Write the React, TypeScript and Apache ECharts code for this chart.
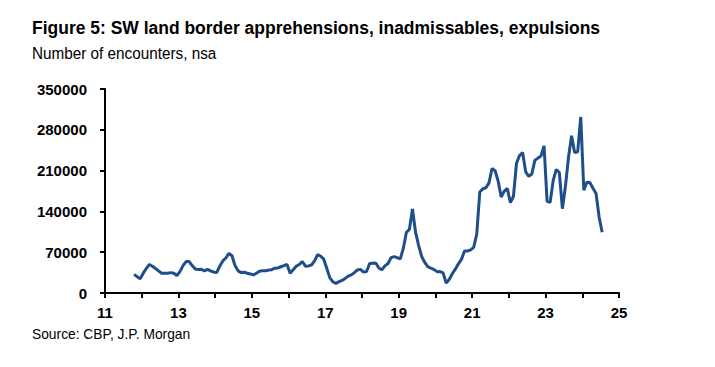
import React, { useEffect, useRef } from "react";
import * as echarts from "echarts";

const startYear = 2011;
const startMonth = 10; // October 2011
const encounters: number[] = [
  // FY2012 (Oct 2011 - Sep 2012)
  32000, 28000, 24500, 34000, 42000, 49000, 46000, 42000, 38000, 34000, 34000, 34000,
  // FY2013
  35000, 34000, 30000, 36600, 47000, 54000, 54000, 47000, 41000, 40500, 40700, 38000,
  // FY2014
  40500, 38000, 36000, 35000, 46000, 55000, 60000, 68000, 64000, 47000, 38000, 35000,
  // FY2015
  35500, 34000, 32700, 31000, 34000, 37500, 38000, 38000, 39500, 40000, 42500, 43000,
  // FY2016
  45000, 47000, 49000, 34000, 40000, 46000, 49000, 54000, 46000, 46500, 48000, 55000,
  // FY2017
  66000, 63000, 58000, 42000, 26000, 19000, 16500, 19500, 21500, 25000, 29000, 31000,
  // FY2018
  35000, 39500, 40500, 36000, 37000, 50500, 51000, 51500, 43000, 40000, 46500, 50500,
  // FY2019
  60700, 62500, 60800, 58300, 76500, 103700, 109400, 144100, 104300, 81800, 62700, 52500,
  // FY2020
  45100, 42600, 40600, 36600, 36700, 34500, 17100, 23200, 33000, 40900, 50000, 57700,
  // FY2021
  71900, 72100, 74000, 78400, 101100, 173300, 178800, 180600, 189000, 213600, 209800, 192000,
  // FY2022
  164800, 174800, 179300, 154900, 166000, 222600, 235800, 241100, 207800, 200200, 204100, 227500,
  // FY2023
  231500, 235200, 252300, 157400, 155600, 193200, 212000, 206700, 144600, 183500, 233000, 269700,
  // FY2024 (Oct 2023 - Jul 2024)
  240900, 242400, 302000, 176200, 189900, 189400, 179700, 170700, 130400, 104100,
];

const xTicks = [11, 13, 15, 17, 19, 21, 23, 25];
const yTicks = [0, 70000, 140000, 210000, 280000, 350000];

const titleText = "Figure 5: SW land border apprehensions, inadmissables, expulsions";
const subtitleText = "Number of encounters, nsa";
const sourceText = "Source: CBP, J.P. Morgan";

const FONT = "'Liberation Sans', Arial, sans-serif";

export default function App() {
  const ref = useRef<HTMLDivElement>(null);
  useEffect(() => {
    if (!ref.current) return;
    const chart = echarts.init(ref.current, null, { renderer: "svg" });
    const data = encounters.map((v, i) => {
      const m = startMonth - 1 + i;
      const yr = startYear + Math.floor(m / 12) - 2000;
      const mon = (m % 12) + 1;
      return [yr + (mon - 0.5) / 12, v];
    });
    chart.setOption({
      animation: false,
      backgroundColor: "#ffffff",
      graphic: [
        {
          type: "text",
          x: 32,
          y: 27,
          scaleX: 0.92,
          style: {
            text: titleText,
            fontFamily: FONT,
            fontSize: 19,
            fontWeight: "bold",
            fill: "#000",
            align: "left",
            verticalAlign: "middle",
          },
        },
        {
          type: "text",
          x: 32,
          y: 53,
          scaleX: 0.9,
          style: {
            text: subtitleText,
            fontFamily: FONT,
            fontSize: 17,
            fill: "#000",
            align: "left",
            verticalAlign: "middle",
          },
        },
        {
          type: "text",
          x: 32,
          y: 334,
          scaleX: 0.92,
          style: {
            text: sourceText,
            fontFamily: FONT,
            fontSize: 15,
            fill: "#000",
            align: "left",
            verticalAlign: "middle",
          },
        },
      ],
      grid: { left: 105, right: 96, top: 89, bottom: 74, containLabel: false },
      xAxis: {
        type: "value",
        min: 11,
        max: 25,
        interval: 1,
        axisLine: { show: true, lineStyle: { color: "#000", width: 2 } },
        axisTick: { show: true, length: 5, lineStyle: { color: "#000", width: 2 } },
        axisLabel: {
          margin: 12,
          fontFamily: FONT,
          fontSize: 15,
          fontWeight: "bold",
          color: "#000",
          formatter: (v: number) => (xTicks.includes(Math.round(v)) ? String(Math.round(v)) : ""),
        },
        splitLine: { show: false },
      },
      yAxis: {
        type: "value",
        min: yTicks[0],
        max: yTicks[yTicks.length - 1],
        interval: 70000,
        axisLine: { show: true, lineStyle: { color: "#000", width: 2 } },
        axisTick: { show: true, length: 5, lineStyle: { color: "#000", width: 2 } },
        axisLabel: {
          margin: 18,
          fontFamily: FONT,
          fontSize: 15,
          fontWeight: "bold",
          color: "#000",
          formatter: (v: number) => String(v),
        },
        splitLine: { show: false },
      },
      series: [
        {
          type: "line",
          data,
          showSymbol: false,
          symbol: "none",
          lineStyle: { color: "#1F4E8A", width: 3 },
          itemStyle: { color: "#1F4E8A" },
        },
      ],
    });
    return () => chart.dispose();
  }, []);
  return (
    <div
      ref={ref}
      style={{ position: "fixed", left: 0, top: 0, width: 715, height: 367, background: "#fff" }}
    />
  );
}
